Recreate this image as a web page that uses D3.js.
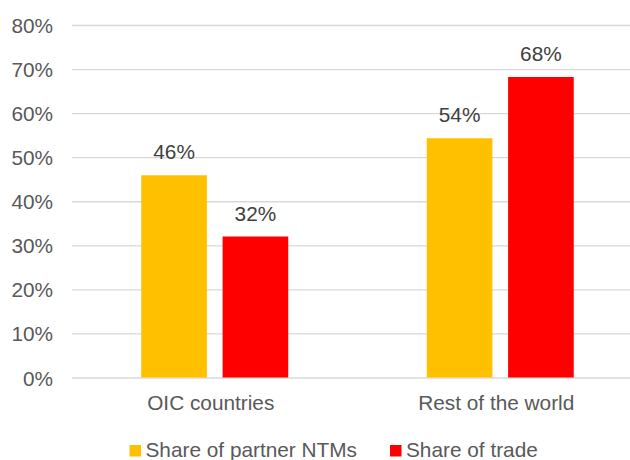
<!DOCTYPE html>
<html>
<head>
<meta charset="utf-8">
<script src="https://cdn.jsdelivr.net/npm/d3@7"></script>
<style>
  body { margin: 0; background: #fff; }
  svg { display: block; font-family: "Liberation Sans", Arial, sans-serif; }
  .grid line { stroke: #d9d9d9; stroke-width: 1.3; }
  .grid text { fill: #595959; font-size: 20.8px; }
</style>
</head>
<body>
<svg id="chart" width="630" height="460"></svg>
<script>
// Chart data.
const categories = ['OIC countries', 'Rest of the world'];
const seriesNames = ['Share of partner NTMs', 'Share of trade'];
const partnerNtms = [0.459, 0.543];
const tradeShare = [0.320, 0.682];
const valueLabels = [['46%', '54%'], ['32%', '68%']];
const yTicks = [0, 0.1, 0.2, 0.3, 0.4, 0.5, 0.6, 0.7, 0.8];
const colors = ['#ffc000', '#ff0000'];

const svg = d3.select('#chart');
const plot = {left: 72, right: 643, top: 25, bottom: 377.5};

const y = d3.scaleLinear().domain([0, 0.8]).range([plot.bottom, plot.top]);
const x0 = d3.scaleBand().domain(categories).range([plot.left, plot.right]);

// Two bars per group with a small gap between them.
const groupWidth = 147;
const x1 = d3.scaleBand()
    .domain(seriesNames)
    .range([(x0.bandwidth() - groupWidth) / 2, (x0.bandwidth() + groupWidth) / 2])
    .paddingInner(0.193);

// Gridlines and y labels from one axis call.
svg.append('g')
    .attr('class', 'grid')
    .attr('transform', 'translate(' + plot.left + ',0)')
    .call(d3.axisLeft(y)
        .tickValues(yTicks)
        .tickFormat(d3.format('.0%'))
        .tickSize(-(plot.right - plot.left))
        .tickPadding(19))
    .call(g => g.select('.domain').remove())
    .call(g => g.selectAll('text').attr('dy', '0.36em'));

const series = [partnerNtms, tradeShare];

const groups = svg.append('g').selectAll('g')
    .data(categories)
    .join('g')
    .attr('transform', d => 'translate(' + x0(d) + ',0)');

groups.selectAll('rect')
    .data((c, ci) => seriesNames.map((s, si) => ({s, si, v: series[si][ci]})))
    .join('rect')
    .attr('x', d => x1(d.s))
    .attr('width', x1.bandwidth())
    .attr('y', d => y(d.v))
    .attr('height', d => y(0) - y(d.v))
    .attr('fill', d => colors[d.si]);

groups.selectAll('text.value')
    .data((c, ci) => seriesNames.map((s, si) => ({s, si, v: series[si][ci], ci})))
    .join('text')
    .attr('class', 'value')
    .attr('x', d => x1(d.s) + x1.bandwidth() / 2)
    .attr('y', d => y(d.v) - 16)
    .attr('text-anchor', 'middle')
    .attr('fill', '#404040')
    .style('font-size', '20.8px')
    .text(d => valueLabels[d.si][d.ci]);

// Category labels under the groups.
svg.append('g').selectAll('text')
    .data(categories)
    .join('text')
    .attr('x', d => x0(d) + x0.bandwidth() / 2 - 4)
    .attr('y', 410)
    .attr('text-anchor', 'middle')
    .attr('fill', '#595959')
    .style('font-size', '20.8px')
    .text(d => d);

// Legend along the bottom.
const legendX = [129.5, 390];
const legend = svg.append('g').selectAll('g')
    .data(seriesNames)
    .join('g')
    .attr('transform', (d, i) => 'translate(' + legendX[i] + ',445)');

legend.append('rect')
    .attr('width', 11.5)
    .attr('height', 11.5)
    .attr('fill', (d, i) => colors[i]);

legend.append('text')
    .attr('x', 16)
    .attr('y', 12)
    .attr('fill', '#595959')
    .style('font-size', '20.8px')
    .text(d => d);
</script>
</body>
</html>
